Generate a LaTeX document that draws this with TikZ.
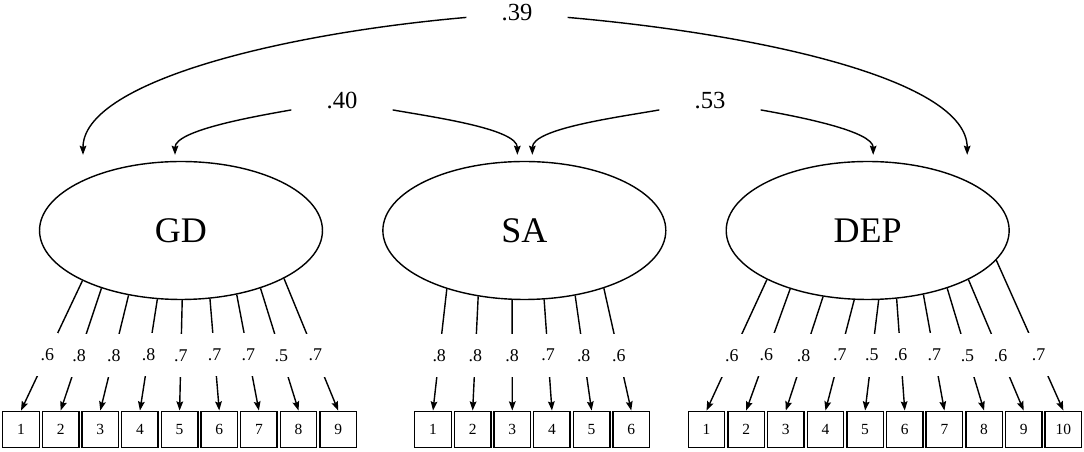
\documentclass[tikz,border=0pt]{standalone}
\usepackage{fontspec}
\setmainfont{Liberation Serif}
\usetikzlibrary{shapes.geometric,positioning,calc,arrows.meta}

\tikzset{
  latent/.style={draw,ellipse,minimum width=5.66cm,minimum height=2.76cm,inner sep=0pt,font=\fontsize{20.5}{24}\selectfont},
  item/.style={draw,rectangle,minimum size=0.73cm,inner sep=0pt,font=\fontsize{8.8}{10}\selectfont},
  load/.style={fill=white,inner sep=0pt,minimum width=0.44cm,minimum height=0.86cm,font=\fontsize{10.2}{12}\selectfont},
  corr/.style={font=\fontsize{14}{16}\selectfont,inner sep=0pt,minimum width=2cm},
  cov/.style={->,out looseness=0.8,in looseness=0.5},
}

\begin{document}
\begin{tikzpicture}[x=0.02cm,y=0.02cm,line width=0.8pt,>={Stealth[length=5.2pt,width=3.8pt,inset=0.8pt]}]
    \useasboundingbox (0,0) rectangle (1084,452);
    % factors
    \node[latent] (GD) at (181,221.5) {GD};
    \node[latent,right=1.18cm of GD] (SA) {SA};
    \node[latent,right=1.18cm of SA] (DEP) {DEP};
    % correlations
    \node[corr] (c39) at (517,439) {.39};
    \node[corr] (c40) at (342,351) {.40};
    \node[corr] (c53) at (710,351) {.53};
    \coordinate (gdA) at ($(GD.north)+(-98,6)$);
    \coordinate (gdB) at ($(GD.north)+(-6,6)$);
    \coordinate (saA) at ($(SA.north)+(-7,6)$);
    \coordinate (saB) at ($(SA.north)+(8,6)$);
    \coordinate (depA) at ($(DEP.north)+(5.5,6)$);
    \coordinate (depB) at ($(DEP.north)+(99.5,6)$);
    \draw[cov,out looseness=1.2,in looseness=0.45] (c39) to[out=185,in=90] (gdA);
    \draw[cov,out looseness=1.2,in looseness=0.45] (c39) to[out=-5,in=90] (depB);
    \draw[cov] (c40) to[out=190,in=90] (gdB);
    \draw[cov] (c40) to[out=-10,in=90] (saA);
    \draw[cov] (c53) to[out=190,in=90] (saB);
    \draw[cov] (c53) to[out=-10,in=90] (depA);
    % GD items
    \node[item] (g1) at (21,22.5) {1};
    \node[item,right=0.035cm of g1] (g2) {2};
    \node[item,right=0.035cm of g2] (g3) {3};
    \node[item,right=0.035cm of g3] (g4) {4};
    \node[item,right=0.035cm of g4] (g5) {5};
    \node[item,right=0.035cm of g5] (g6) {6};
    \node[item,right=0.035cm of g6] (g7) {7};
    \node[item,right=0.035cm of g7] (g8) {8};
    \node[item,right=0.035cm of g8] (g9) {9};
    \draw[->] (GD.207) -- node[load,pos=.57] {.6} (g1.north);
    \draw[->] (GD.216) -- node[load,pos=.55] {.8} (g2.north);
    \draw[->] (GD.231) -- node[load,pos=.52] {.8} (g3.north);
    \draw[->] (GD.251) -- node[load,pos=.50] {.8} (g4.north);
    \draw[->] (GD.271) -- node[load,pos=.50] {.7} (g5.north);
    \draw[->] (GD.293) -- node[load,pos=.50] {.7} (g6.north);
    \draw[->] (GD.311) -- node[load,pos=.52] {.7} (g7.north);
    \draw[->] (GD.324) -- node[load,pos=.55] {.5} (g8.north);
    \draw[->] (GD.335) -- node[load,pos=.58] {.7} (g9.north);
    % SA items
    \node[item] (s1) at (433,22.5) {1};
    \node[item,right=0.035cm of s1] (s2) {2};
    \node[item,right=0.035cm of s2] (s3) {3};
    \node[item,right=0.035cm of s3] (s4) {4};
    \node[item,right=0.035cm of s4] (s5) {5};
    \node[item,right=0.035cm of s5] (s6) {6};
    \draw[->] (SA.217) -- node[load,pos=.55] {.8} (s1.north);
    \draw[->] (SA.235) -- node[load,pos=.52] {.8} (s2.north);
    \draw[->] (SA.260) -- node[load,pos=.50] {.8} (s3.north);
    \draw[->] (SA.286) -- node[load,pos=.50] {.7} (s4.north);
    \draw[->] (SA.308) -- node[load,pos=.52] {.8} (s5.north);
    \draw[->] (SA.324) -- node[load,pos=.55] {.6} (s6.north);
    % DEP items
    \node[item] (d1) at (706.5,22.5) {1};
    \node[item,right=0.035cm of d1] (d2) {2};
    \node[item,right=0.035cm of d2] (d3) {3};
    \node[item,right=0.035cm of d3] (d4) {4};
    \node[item,right=0.035cm of d4] (d5) {5};
    \node[item,right=0.035cm of d5] (d6) {6};
    \node[item,right=0.035cm of d6] (d7) {7};
    \node[item,right=0.035cm of d7] (d8) {8};
    \node[item,right=0.035cm of d8] (d9) {9};
    \node[item,right=0.035cm of d9] (d10) {10};
    \draw[->] (DEP.206) -- node[load,pos=.58] {.6} (d1.north);
    \draw[->] (DEP.217) -- node[load,pos=.54] {.6} (d2.north);
    \draw[->] (DEP.236) -- node[load,pos=.52] {.8} (d3.north);
    \draw[->] (DEP.259) -- node[load,pos=.50] {.7} (d4.north);
    \draw[->] (DEP.279) -- node[load,pos=.50] {.5} (d5.north);
    \draw[->] (DEP.293) -- node[load,pos=.50] {.6} (d6.north);
    \draw[->] (DEP.311) -- node[load,pos=.52] {.7} (d7.north);
    \draw[->] (DEP.324) -- node[load,pos=.55] {.5} (d8.north);
    \draw[->] (DEP.334) -- node[load,pos=.58] {.6} (d9.north);
    \draw[->] (DEP.347) -- node[load,pos=.63] {.7} (d10.north);
\end{tikzpicture}
\end{document}
